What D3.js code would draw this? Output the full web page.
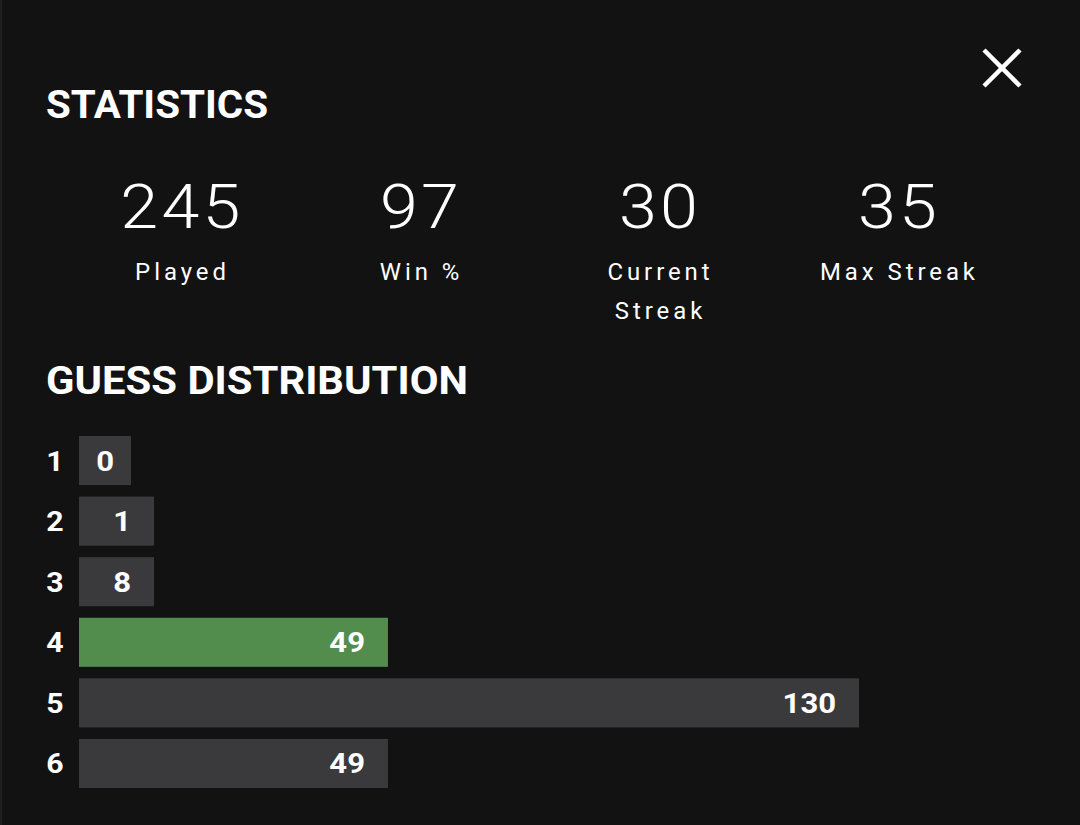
<!DOCTYPE html>
<html>
    <head>
        <title>Statistics</title>
        <script src="https://d3js.org/d3.v7.min.js"></script>
        <style>
            body{
                margin:0;
                background:#121213;
            }
            svg{
                display:block;
            }
        </style>
    </head>
    <body>
        <svg width="1080" height="825"></svg>
    </body>
    <script>
        // Werte aus dem Bild
        const statValues = [245, 97, 30, 35];
        const statLabels = [["Played"], ["Win %"], ["Current", "Streak"], ["Max Streak"]];
        const guesses = ["1", "2", "3", "4", "5", "6"];
        const counts = [0, 1, 8, 49, 130, 49];
        const lastGuess = "4";

        const svg = d3.select("svg");
        const headFont = "Roboto, 'Liberation Sans', sans-serif";

        // Rahmen links
        svg.append("rect")
                .attr("x", 0.5).attr("y", -10)
                .attr("width", 1200).attr("height", 900)
                .attr("fill", "#121213")
                .attr("stroke", "#1f1f20")
                .attr("stroke-width", 3);

        // Schliessen-X
        const close = svg.append("g").attr("stroke", "#fff").attr("stroke-width", 4.5);
        close.append("line").attr("x1", 984).attr("y1", 50).attr("x2", 1020).attr("y2", 86);
        close.append("line").attr("x1", 1020).attr("y1", 50).attr("x2", 984).attr("y2", 86);

        function heading(text, y, width){
            svg.append("text")
                    .attr("x", 46)
                    .attr("y", y)
                    .attr("fill", "#fff")
                    .style("font-family", headFont)
                    .style("font-weight", 700)
                    .style("font-size", "38px")
                    .attr("textLength", width)
                    .attr("lengthAdjust", "spacingAndGlyphs")
                    .text(text);
        }
        heading("STATISTICS", 118, 222);
        heading("GUESS DISTRIBUTION", 394, 422);

        // Statistik-Spalten
        const cols = d3.scaleBand()
                .domain(d3.range(statValues.length))
                .range([61, 1017]);

        const stat = svg.selectAll("g.stat")
                .data(statValues)
                .join("g")
                .attr("class", "stat")
                .attr("transform", (d, i) => `translate(${cols(i) + cols.bandwidth() / 2},0)`);

        // Ziffern etwas breiter ziehen (Franklin ist breiter als Roboto)
        stat.append("text")
                .attr("transform", "translate(1.5,228) scale(1.1,1)")
                .attr("text-anchor", "middle")
                .attr("fill", "#fff")
                .style("font-family", "Roboto, sans-serif")
                .style("font-weight", 300)
                .style("font-size", "62px")
                .style("letter-spacing", "3px")
                .text(d => d);

        stat.each(function(d, i){
            d3.select(this).selectAll("text.label")
                    .data(statLabels[i])
                    .join("text")
                    .attr("class", "label")
                    .attr("transform", (t, j) => `translate(2,${280 + j * 38.5}) scale(1.04,1)`)
                    .attr("text-anchor", "middle")
                    .attr("fill", "#fff")
                    .style("font-family", "Roboto, sans-serif")
                    .style("font-size", "23px")
                    .style("letter-spacing", "3.8px")
                    .text(t => t);
        });

        // Balken
        const y = d3.scaleBand()
                .domain(guesses)
                .range([436, 788])
                .paddingInner(0.19);

        const x = d3.scaleLinear()
                .domain([0, d3.max(counts)])
                .range([0, 756]);

        const barLeft = 79;
        const barWidth = v => v === 0 ? 52 : Math.max(x(v), 51) + 24;
        const midY = y.bandwidth() / 2 + 10;

        const rows = svg.selectAll("g.row")
                .data(guesses.map((g, i) => ({guess: g, count: counts[i]})))
                .join("g")
                .attr("class", "row")
                .attr("transform", d => `translate(0,${y(d.guess)})`);

        rows.append("text")
                .attr("transform", `translate(55,${midY}) scale(1.12,1)`)
                .attr("text-anchor", "middle")
                .attr("fill", "#fff")
                .style("font-family", headFont)
                .style("font-weight", 700)
                .style("font-size", "27px")
                .text(d => d.guess);

        rows.append("rect")
                .attr("x", barLeft)
                .attr("width", d => barWidth(d.count))
                .attr("height", y.bandwidth())
                .attr("fill", d => d.guess === lastGuess ? "#538d4e" : "#3a3a3c");

        rows.append("text")
                .attr("transform", d => `translate(${barLeft + barWidth(d.count) - (d.count === 0 ? 17 : 23)},${midY}) scale(1.15,1)`)
                .attr("text-anchor", "end")
                .attr("fill", "#fff")
                .style("font-family", headFont)
                .style("font-weight", 700)
                .style("font-size", "27px")
                .text(d => d.count);
    </script>
</html>
